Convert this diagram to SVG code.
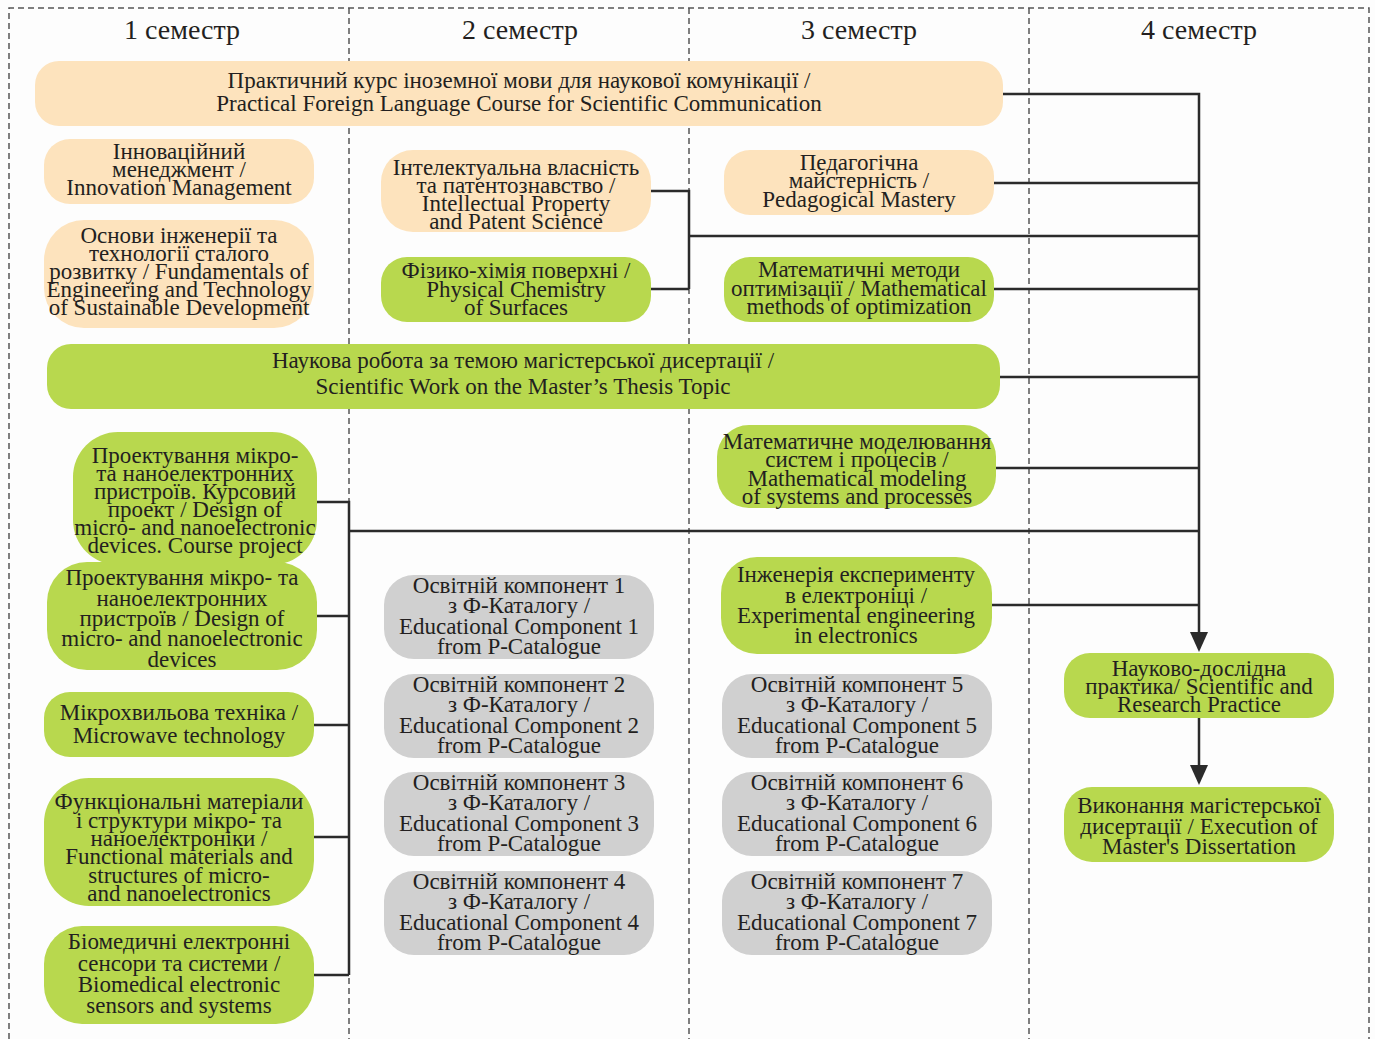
<svg xmlns="http://www.w3.org/2000/svg" width="1375" height="1039" viewBox="0 0 1375 1039">
<style>
.bg{fill:#fdfdfd}
.grid{stroke:#555;stroke-width:1.5;stroke-dasharray:6 4;fill:none}
.hdr{font-family:"Liberation Serif","Times New Roman",serif;font-size:28px;fill:#231f20;text-anchor:middle}
.t{font-family:"Liberation Serif","Times New Roman",serif;font-size:23px;fill:#231f20;text-anchor:middle}
.peach{fill:#fde3bd}
.green{fill:#b8d84e}
.grey{fill:#d0d0d0}
.con{stroke:#2b2b2b;stroke-width:2.5;fill:none}
</style>
<defs>
<marker id="arr" markerUnits="userSpaceOnUse" markerWidth="20" markerHeight="18" refX="8" refY="9" orient="auto">
<path d="M0,0 L20,9 L0,18 z" fill="#2b2b2b"/>
</marker>
</defs>
<rect class="bg" x="0" y="0" width="1375" height="1039"/>
<g id="grid">
<path class="grid" d="M9,1039 V8 H1369 V1039 M349,8 V1039 M689,8 V1039 M1029,8 V1039"/>
<text class="hdr" x="182" y="39">1 семестр</text>
<text class="hdr" x="520" y="39">2 семестр</text>
<text class="hdr" x="859" y="39">3 семестр</text>
<text class="hdr" x="1199" y="39">4 семестр</text>
</g>
<g id="connectors">
<path class="con" d="M1003,94 H1199 V640" marker-end="url(#arr)"/>
<path class="con" d="M994,183 H1199"/>
<path class="con" d="M651,191 H689 V289 M651,289 H689"/>
<path class="con" d="M689,236 H1199"/>
<path class="con" d="M994,289 H1199"/>
<path class="con" d="M1000,377 H1199"/>
<path class="con" d="M996,468 H1199"/>
<path class="con" d="M349,531 H1199"/>
<path class="con" d="M992,605 H1199"/>
<path class="con" d="M317,502 H349 V975 M317,616 H349 M314,725 H349 M314,837 H349 M314,975 H349"/>
<path class="con" d="M1199,718 V773" marker-end="url(#arr)"/>
</g>
<g id="n-language">
<rect class="peach" x="35" y="61" width="968" height="65" rx="24"/>
<text class="t" x="519" y="88">Практичний курс іноземної мови для наукової комунікації /</text>
<text class="t" x="519" y="111">Practical Foreign Language Course for Scientific Communication</text>
</g>
<g id="n-innovation">
<rect class="peach" x="44" y="139" width="270" height="65" rx="26"/>
<text class="t" x="179" y="159">Інноваційний</text>
<text class="t" x="179" y="177">менеджмент /</text>
<text class="t" x="179" y="195">Innovation Management</text>
</g>
<g id="n-sustainable">
<rect class="peach" x="44" y="220" width="270" height="108" rx="40"/>
<text class="t" x="179" y="243">Основи інженерії та</text>
<text class="t" x="179" y="261">технології сталого</text>
<text class="t" x="179" y="279">розвитку / Fundamentals of</text>
<text class="t" x="179" y="297">Engineering and Technology</text>
<text class="t" x="179" y="315">of Sustainable Development</text>
</g>
<g id="n-ip">
<rect class="peach" x="381" y="150" width="270" height="82" rx="32"/>
<text class="t" x="516" y="175">Інтелектуальна власність</text>
<text class="t" x="516" y="193">та патентознавство /</text>
<text class="t" x="516" y="211">Intellectual Property</text>
<text class="t" x="516" y="229">and Patent Science</text>
</g>
<g id="n-surface">
<rect class="green" x="381" y="257" width="270" height="65" rx="26"/>
<text class="t" x="516" y="278">Фізико-хімія поверхні /</text>
<text class="t" x="516" y="297">Physical Chemistry</text>
<text class="t" x="516" y="315">of Surfaces</text>
</g>
<g id="n-pedagogical">
<rect class="peach" x="724" y="150" width="270" height="65" rx="26"/>
<text class="t" x="859" y="170">Педагогічна</text>
<text class="t" x="859" y="188">майстерність /</text>
<text class="t" x="859" y="207">Pedagogical Mastery</text>
</g>
<g id="n-optimization">
<rect class="green" x="724" y="257" width="270" height="65" rx="26"/>
<text class="t" x="859" y="277">Математичні методи</text>
<text class="t" x="859" y="296">оптимізації / Mathematical</text>
<text class="t" x="859" y="314">methods of optimization</text>
</g>
<g id="n-research-work">
<rect class="green" x="47" y="344" width="953" height="65" rx="24"/>
<text class="t" x="523" y="368">Наукова робота за темою магістерської дисертації /</text>
<text class="t" x="523" y="394">Scientific Work on the Master’s Thesis Topic</text>
</g>
<g id="n-modeling">
<rect class="green" x="717" y="425" width="279" height="83" rx="32"/>
<text class="t" x="857" y="449">Математичне моделювання</text>
<text class="t" x="857" y="467">систем і процесів /</text>
<text class="t" x="857" y="486">Mathematical modeling</text>
<text class="t" x="857" y="504">of systems and processes</text>
</g>
<g id="n-design-course">
<rect class="green" x="73" y="432" width="244" height="133" rx="45"/>
<text class="t" x="195" y="463">Проектування мікро-</text>
<text class="t" x="195" y="481">та наноелектронних</text>
<text class="t" x="195" y="499">пристроїв. Курсовий</text>
<text class="t" x="195" y="517">проект / Design of</text>
<text class="t" x="195" y="535">micro- and nanoelectronic</text>
<text class="t" x="195" y="553">devices. Course project</text>
</g>
<g id="n-design">
<rect class="green" x="47" y="562" width="270" height="108" rx="40"/>
<text class="t" x="182" y="585">Проектування мікро- та</text>
<text class="t" x="182" y="606">наноелектронних</text>
<text class="t" x="182" y="626">пристроїв / Design of</text>
<text class="t" x="182" y="646">micro- and nanoelectronic</text>
<text class="t" x="182" y="667">devices</text>
</g>
<g id="n-microwave">
<rect class="green" x="44" y="692" width="270" height="65" rx="26"/>
<text class="t" x="179" y="720">Мікрохвильова техніка /</text>
<text class="t" x="179" y="743">Microwave technology</text>
</g>
<g id="n-functional">
<rect class="green" x="44" y="778" width="270" height="128" rx="45"/>
<text class="t" x="179" y="809">Функціональні матеріали</text>
<text class="t" x="179" y="828">і структури мікро- та</text>
<text class="t" x="179" y="846">наноелектроніки /</text>
<text class="t" x="179" y="864">Functional materials and</text>
<text class="t" x="179" y="883">structures of micro-</text>
<text class="t" x="179" y="901">and nanoelectronics</text>
</g>
<g id="n-biomedical">
<rect class="green" x="44" y="926" width="270" height="98" rx="38"/>
<text class="t" x="179" y="949">Біомедичні електронні</text>
<text class="t" x="179" y="971">сенсори та системи /</text>
<text class="t" x="179" y="992">Biomedical electronic</text>
<text class="t" x="179" y="1013">sensors and systems</text>
</g>
<g id="n-ec1">
<rect class="grey" x="384" y="575" width="270" height="84" rx="30"/>
<text class="t" x="519" y="593">Освітній компонент 1</text>
<text class="t" x="519" y="613">з Ф-Каталогу /</text>
<text class="t" x="519" y="634">Educational Component 1</text>
<text class="t" x="519" y="654">from P-Catalogue</text>
</g>
<g id="n-ec2">
<rect class="grey" x="384" y="674" width="270" height="84" rx="30"/>
<text class="t" x="519" y="692">Освітній компонент 2</text>
<text class="t" x="519" y="712">з Ф-Каталогу /</text>
<text class="t" x="519" y="733">Educational Component 2</text>
<text class="t" x="519" y="753">from P-Catalogue</text>
</g>
<g id="n-ec3">
<rect class="grey" x="384" y="772" width="270" height="84" rx="30"/>
<text class="t" x="519" y="790">Освітній компонент 3</text>
<text class="t" x="519" y="810">з Ф-Каталогу /</text>
<text class="t" x="519" y="831">Educational Component 3</text>
<text class="t" x="519" y="851">from P-Catalogue</text>
</g>
<g id="n-ec4">
<rect class="grey" x="384" y="871" width="270" height="84" rx="30"/>
<text class="t" x="519" y="889">Освітній компонент 4</text>
<text class="t" x="519" y="909">з Ф-Каталогу /</text>
<text class="t" x="519" y="930">Educational Component 4</text>
<text class="t" x="519" y="950">from P-Catalogue</text>
</g>
<g id="n-experiment">
<rect class="green" x="721" y="557" width="271" height="97" rx="36"/>
<text class="t" x="856" y="582">Інженерія експерименту</text>
<text class="t" x="856" y="603">в електроніці /</text>
<text class="t" x="856" y="623">Experimental engineering</text>
<text class="t" x="856" y="643">in electronics</text>
</g>
<g id="n-ec5">
<rect class="grey" x="722" y="674" width="270" height="84" rx="30"/>
<text class="t" x="857" y="692">Освітній компонент 5</text>
<text class="t" x="857" y="712">з Ф-Каталогу /</text>
<text class="t" x="857" y="733">Educational Component 5</text>
<text class="t" x="857" y="753">from P-Catalogue</text>
</g>
<g id="n-ec6">
<rect class="grey" x="722" y="772" width="270" height="84" rx="30"/>
<text class="t" x="857" y="790">Освітній компонент 6</text>
<text class="t" x="857" y="810">з Ф-Каталогу /</text>
<text class="t" x="857" y="831">Educational Component 6</text>
<text class="t" x="857" y="851">from P-Catalogue</text>
</g>
<g id="n-ec7">
<rect class="grey" x="722" y="871" width="270" height="84" rx="30"/>
<text class="t" x="857" y="889">Освітній компонент 7</text>
<text class="t" x="857" y="909">з Ф-Каталогу /</text>
<text class="t" x="857" y="930">Educational Component 7</text>
<text class="t" x="857" y="950">from P-Catalogue</text>
</g>
<g id="n-practice">
<rect class="green" x="1064" y="653" width="270" height="65" rx="26"/>
<text class="t" x="1199" y="676">Науково-дослідна</text>
<text class="t" x="1199" y="694">практика/ Scientific and</text>
<text class="t" x="1199" y="712">Research Practice</text>
</g>
<g id="n-dissertation">
<rect class="green" x="1064" y="787" width="270" height="75" rx="28"/>
<text class="t" x="1199" y="813">Виконання магістерської</text>
<text class="t" x="1199" y="834">дисертації / Execution of</text>
<text class="t" x="1199" y="854">Master's Dissertation</text>
</g>
</svg>
